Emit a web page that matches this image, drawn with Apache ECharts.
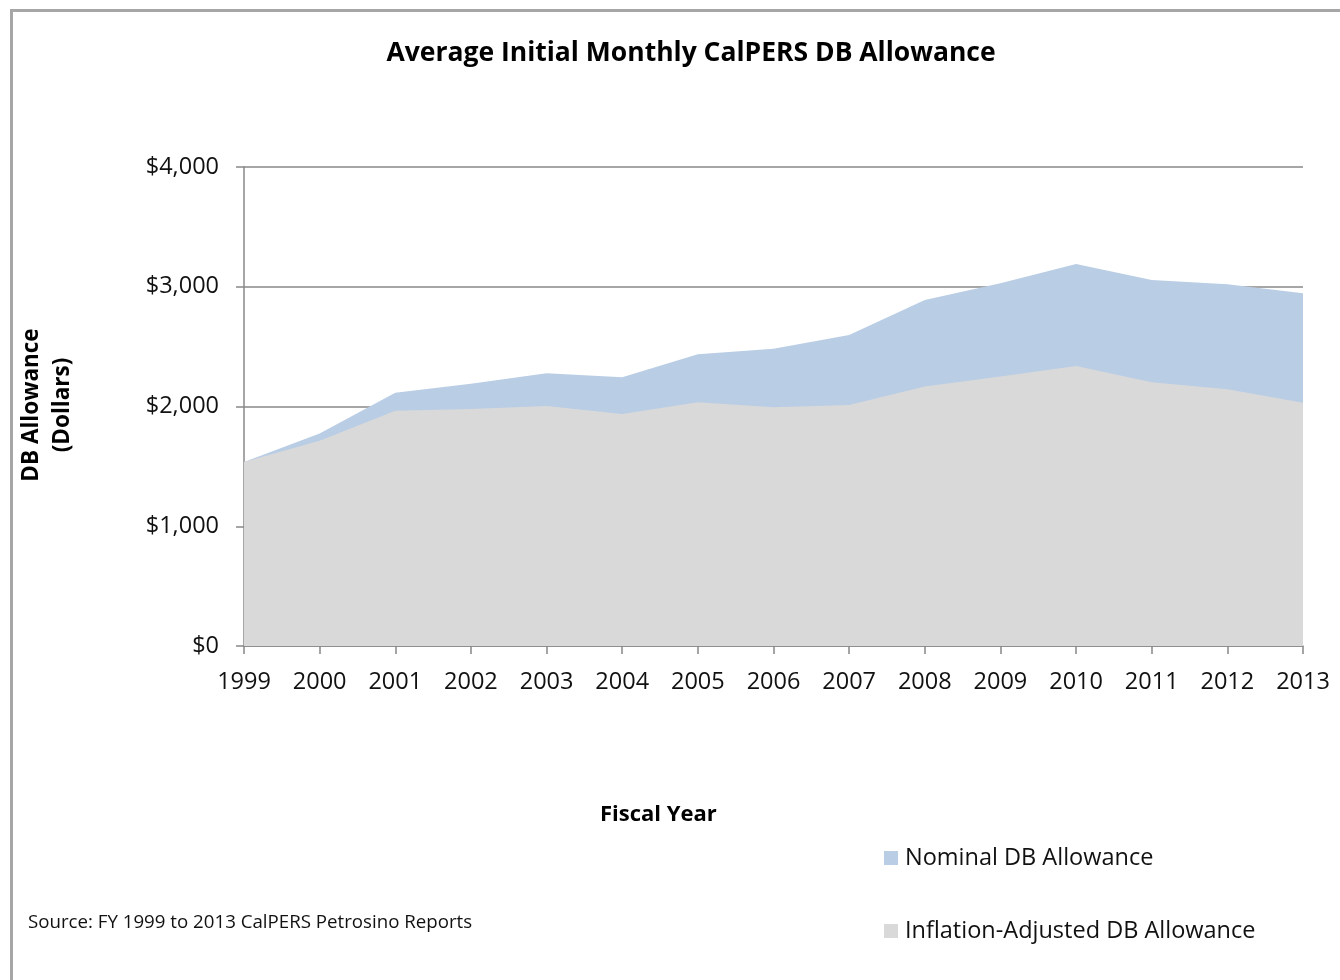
<!DOCTYPE html>
<html>
<head>
<meta charset="utf-8">
<script src="https://cdn.jsdelivr.net/npm/echarts@6/dist/echarts.min.js"></script>
<style>
html,body{margin:0;padding:0;background:#fff;}
#chart{width:1340px;height:980px;}
</style>
</head>
<body>
<div id="chart"></div>
<script>
var years = ['1999','2000','2001','2002','2003','2004','2005','2006','2007','2008','2009','2010','2011','2012','2013'];
var nominal = [1536, 1775, 2115, 2190, 2277, 2244, 2436, 2483, 2597, 2889, 3030, 3190, 3056, 3020, 2945];
var inflationAdjusted = [1536, 1715, 1965, 1980, 2005, 1937, 2035, 1993, 2012, 2166, 2250, 2338, 2202, 2144, 2032];
var yTicks = [0, 1000, 2000, 3000, 4000];

var FONT = '"Open Sans", "Noto Sans", sans-serif';
var chart = echarts.init(document.getElementById('chart'), null, {renderer: 'canvas'});
chart.setOption({
  animation: false,
  backgroundColor: '#ffffff',
  textStyle: {fontFamily: FONT},
  title: {
    text: 'Average Initial Monthly CalPERS DB Allowance',
    left: 686, top: 35, textAlign: 'center',
    textStyle: {fontFamily: FONT, fontSize: 26.5, fontWeight: 'bold', color: '#000'}
  },
  grid: {left: 244, right: 37, top: 167, bottom: 334, containLabel: false},
  legend: {
    orient: 'vertical',
    left: 879, top: 841,
    itemWidth: 14, itemHeight: 14, itemGap: 49,
    icon: 'rect',
    textStyle: {fontFamily: FONT, fontSize: 23.5, lineHeight: 24, color: '#111', padding: [0,0,0,2]},
    data: ['Nominal DB Allowance', 'Inflation-Adjusted DB Allowance']
  },
  xAxis: {
    type: 'category',
    data: years,
    boundaryGap: false,
    axisLine: {lineStyle: {color: '#888888', width: 1.5}},
    axisTick: {show: true, length: 8, lineStyle: {color: '#888888', width: 1.5}},
    axisLabel: {fontFamily: FONT, fontSize: 23.5, color: '#111', margin: 24},
    splitLine: {show: false}
  },
  yAxis: {
    type: 'value',
    min: yTicks[0], max: yTicks[yTicks.length - 1], interval: 1000,
    axisLine: {show: true, lineStyle: {color: '#888888', width: 1.5}},
    axisTick: {show: true, length: 8, lineStyle: {color: '#888888', width: 1.5}},
    axisLabel: {
      fontFamily: FONT, fontSize: 23.5, color: '#111', margin: 25,
      formatter: function (v) { return '$' + v.toLocaleString('en-US'); }
    },
    splitLine: {show: true, lineStyle: {color: '#888888', width: 1.5}}
  },
  series: [
    {
      name: 'Nominal DB Allowance',
      type: 'line',
      data: nominal,
      symbol: 'none',
      lineStyle: {width: 0},
      itemStyle: {color: '#B9CDE5'},
      areaStyle: {color: '#B9CDE5', opacity: 1}
    },
    {
      name: 'Inflation-Adjusted DB Allowance',
      type: 'line',
      data: inflationAdjusted,
      symbol: 'none',
      lineStyle: {width: 0},
      itemStyle: {color: '#D9D9D9'},
      areaStyle: {color: '#D9D9D9', opacity: 1}
    }
  ],
  graphic: [
    {
      type: 'rect', left: 9, top: 8, z: -1, silent: true,
      shape: {width: 1360, height: 1000},
      style: {fill: 'none', stroke: '#a6a6a6', lineWidth: 3}
    },
    {
      type: 'text', left: 600, top: 804,
      style: {text: 'Fiscal Year', fontFamily: FONT, fontSize: 22, fontWeight: 'bold', fill: '#000'}
    },
    {
      type: 'text', left: 28, top: 913,
      style: {text: 'Source: FY 1999 to 2013 CalPERS Petrosino Reports', fontFamily: FONT, fontSize: 18.7, fill: '#111'}
    },
    {
      type: 'text', x: 47, y: 405, rotation: Math.PI / 2,
      style: {
        text: 'DB Allowance\n(Dollars)', fontFamily: FONT, fontSize: 22.5, fontWeight: 'bold', fill: '#000',
        align: 'center', verticalAlign: 'middle', lineHeight: 31
      }
    }
  ]
});
</script>
</body>
</html>
